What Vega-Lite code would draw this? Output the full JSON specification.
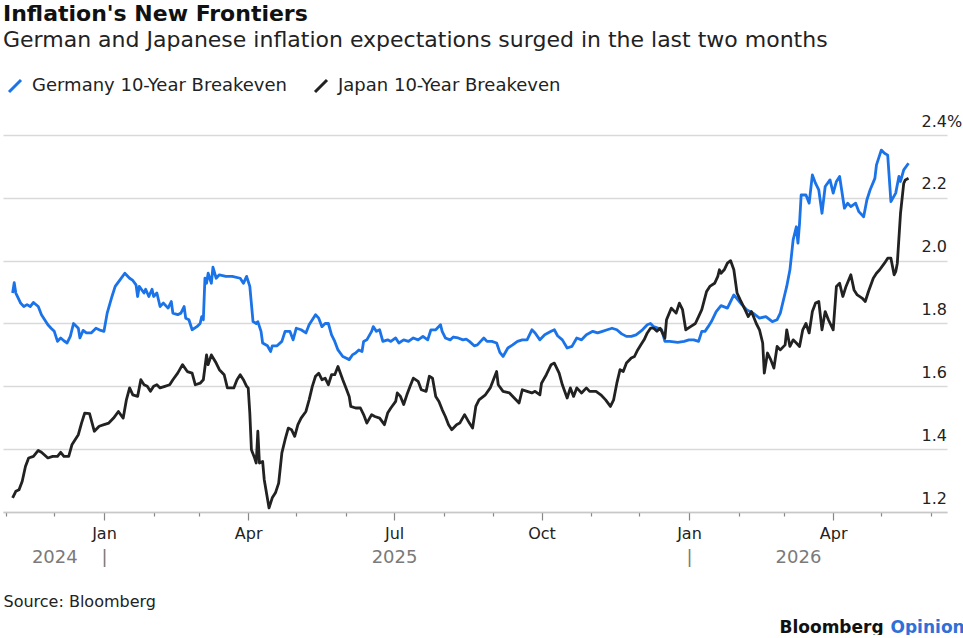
{
"$schema":"https://vega.github.io/schema/vega-lite/v6.json",
"width":944,"height":377,
"padding":{"left":3,"top":3,"right":0,"bottom":0},
"background":"white",
"title":{"text":"Inflation's New Frontiers","subtitle":"German and Japanese inflation expectations surged in the last two months","anchor":"start","frame":"group","font":"DejaVu Sans","fontSize":22,"fontWeight":"bold","color":"#111","subtitleFont":"DejaVu Sans","subtitleFontSize":22,"subtitleColor":"#222","subtitlePadding":4,"offset":25},
"config":{"view":{"stroke":null}},
"datasets":{
"de":[
{"date":"2024-11-05","value":1.897},{"date":"2024-11-06","value":1.93},{"date":"2024-11-07","value":1.897},{"date":"2024-11-10","value":1.865},{"date":"2024-11-12","value":1.854},{"date":"2024-11-14","value":1.86},{"date":"2024-11-16","value":1.854},{"date":"2024-11-18","value":1.867},{"date":"2024-11-21","value":1.854},{"date":"2024-11-23","value":1.828},{"date":"2024-11-27","value":1.796},{"date":"2024-11-29","value":1.785},
{"date":"2024-12-01","value":1.775},{"date":"2024-12-03","value":1.743},{"date":"2024-12-05","value":1.754},{"date":"2024-12-07","value":1.745},{"date":"2024-12-09","value":1.738},{"date":"2024-12-11","value":1.759},{"date":"2024-12-13","value":1.80},{"date":"2024-12-16","value":1.785},{"date":"2024-12-17","value":1.754},{"date":"2024-12-19","value":1.778},{"date":"2024-12-21","value":1.77},{"date":"2024-12-24","value":1.77},{"date":"2024-12-27","value":1.785},{"date":"2024-12-30","value":1.778},
{"date":"2025-01-01","value":1.775},{"date":"2025-01-03","value":1.833},{"date":"2025-01-06","value":1.886},{"date":"2025-01-08","value":1.918},{"date":"2025-01-11","value":1.939},{"date":"2025-01-14","value":1.96},{"date":"2025-01-17","value":1.944},{"date":"2025-01-19","value":1.937},{"date":"2025-01-21","value":1.923},{"date":"2025-01-22","value":1.886},{"date":"2025-01-23","value":1.918},{"date":"2025-01-26","value":1.897},{"date":"2025-01-27","value":1.909},{"date":"2025-01-29","value":1.886},{"date":"2025-01-31","value":1.909},
{"date":"2025-02-01","value":1.886},{"date":"2025-02-03","value":1.897},{"date":"2025-02-05","value":1.854},{"date":"2025-02-07","value":1.865},{"date":"2025-02-10","value":1.849},{"date":"2025-02-12","value":1.87},{"date":"2025-02-13","value":1.833},{"date":"2025-02-16","value":1.828},{"date":"2025-02-18","value":1.833},{"date":"2025-02-20","value":1.854},{"date":"2025-02-21","value":1.817},{"date":"2025-02-23","value":1.812},{"date":"2025-02-25","value":1.78},{"date":"2025-02-28","value":1.79},
{"date":"2025-03-02","value":1.80},{"date":"2025-03-03","value":1.822},{"date":"2025-03-04","value":1.812},{"date":"2025-03-05","value":1.944},{"date":"2025-03-06","value":1.928},{"date":"2025-03-07","value":1.96},{"date":"2025-03-09","value":1.928},{"date":"2025-03-10","value":1.979},{"date":"2025-03-12","value":1.944},{"date":"2025-03-14","value":1.955},{"date":"2025-03-18","value":1.95},{"date":"2025-03-22","value":1.95},{"date":"2025-03-27","value":1.944},{"date":"2025-03-29","value":1.928},{"date":"2025-03-31","value":1.95},
{"date":"2025-04-02","value":1.918},{"date":"2025-04-04","value":1.806},{"date":"2025-04-06","value":1.80},{"date":"2025-04-07","value":1.806},{"date":"2025-04-09","value":1.775},{"date":"2025-04-10","value":1.738},{"date":"2025-04-13","value":1.729},{"date":"2025-04-15","value":1.711},{"date":"2025-04-16","value":1.729},{"date":"2025-04-19","value":1.729},{"date":"2025-04-22","value":1.743},{"date":"2025-04-24","value":1.775},{"date":"2025-04-27","value":1.775},{"date":"2025-04-29","value":1.748},
{"date":"2025-05-01","value":1.785},{"date":"2025-05-04","value":1.78},{"date":"2025-05-07","value":1.77},{"date":"2025-05-09","value":1.796},{"date":"2025-05-11","value":1.812},{"date":"2025-05-13","value":1.828},{"date":"2025-05-15","value":1.817},{"date":"2025-05-17","value":1.79},{"date":"2025-05-19","value":1.80},{"date":"2025-05-21","value":1.80},{"date":"2025-05-23","value":1.764},{"date":"2025-05-25","value":1.743},{"date":"2025-05-27","value":1.716},{"date":"2025-05-30","value":1.695},
{"date":"2025-06-01","value":1.69},{"date":"2025-06-03","value":1.685},{"date":"2025-06-05","value":1.70},{"date":"2025-06-07","value":1.706},{"date":"2025-06-09","value":1.716},{"date":"2025-06-11","value":1.711},{"date":"2025-06-12","value":1.743},{"date":"2025-06-14","value":1.748},{"date":"2025-06-17","value":1.775},{"date":"2025-06-18","value":1.79},{"date":"2025-06-20","value":1.775},{"date":"2025-06-22","value":1.78},{"date":"2025-06-24","value":1.743},{"date":"2025-06-27","value":1.748},{"date":"2025-06-29","value":1.743},
{"date":"2025-07-02","value":1.754},{"date":"2025-07-04","value":1.738},{"date":"2025-07-07","value":1.748},{"date":"2025-07-10","value":1.743},{"date":"2025-07-13","value":1.754},{"date":"2025-07-16","value":1.748},{"date":"2025-07-19","value":1.759},{"date":"2025-07-22","value":1.748},{"date":"2025-07-24","value":1.78},{"date":"2025-07-27","value":1.78},{"date":"2025-07-30","value":1.796},{"date":"2025-07-31","value":1.775},
{"date":"2025-08-02","value":1.754},{"date":"2025-08-05","value":1.748},{"date":"2025-08-07","value":1.757},{"date":"2025-08-10","value":1.754},{"date":"2025-08-13","value":1.748},{"date":"2025-08-15","value":1.75},{"date":"2025-08-17","value":1.743},{"date":"2025-08-20","value":1.729},{"date":"2025-08-22","value":1.732},{"date":"2025-08-24","value":1.743},{"date":"2025-08-26","value":1.754},{"date":"2025-08-28","value":1.743},{"date":"2025-08-31","value":1.743},
{"date":"2025-09-03","value":1.738},{"date":"2025-09-05","value":1.708},{"date":"2025-09-07","value":1.695},{"date":"2025-09-10","value":1.722},{"date":"2025-09-13","value":1.732},{"date":"2025-09-16","value":1.743},{"date":"2025-09-19","value":1.748},{"date":"2025-09-22","value":1.748},{"date":"2025-09-25","value":1.78},{"date":"2025-09-27","value":1.77},{"date":"2025-09-30","value":1.748},
{"date":"2025-10-03","value":1.764},{"date":"2025-10-07","value":1.775},{"date":"2025-10-09","value":1.78},{"date":"2025-10-11","value":1.761},{"date":"2025-10-14","value":1.748},{"date":"2025-10-17","value":1.722},{"date":"2025-10-20","value":1.727},{"date":"2025-10-23","value":1.754},{"date":"2025-10-26","value":1.748},{"date":"2025-10-29","value":1.764},
{"date":"2025-11-02","value":1.775},{"date":"2025-11-05","value":1.77},{"date":"2025-11-08","value":1.775},{"date":"2025-11-11","value":1.78},{"date":"2025-11-14","value":1.785},{"date":"2025-11-17","value":1.78},{"date":"2025-11-20","value":1.767},{"date":"2025-11-23","value":1.759},{"date":"2025-11-26","value":1.759},{"date":"2025-11-29","value":1.764},
{"date":"2025-12-03","value":1.78},{"date":"2025-12-06","value":1.796},{"date":"2025-12-08","value":1.80},{"date":"2025-12-10","value":1.79},{"date":"2025-12-13","value":1.785},{"date":"2025-12-15","value":1.78},{"date":"2025-12-17","value":1.743},{"date":"2025-12-20","value":1.743},{"date":"2025-12-25","value":1.74},{"date":"2025-12-29","value":1.743},
{"date":"2026-01-01","value":1.748},{"date":"2026-01-04","value":1.748},{"date":"2026-01-07","value":1.743},{"date":"2026-01-09","value":1.775},{"date":"2026-01-11","value":1.775},{"date":"2026-01-13","value":1.79},{"date":"2026-01-15","value":1.806},{"date":"2026-01-18","value":1.838},{"date":"2026-01-21","value":1.857},{"date":"2026-01-25","value":1.849},{"date":"2026-01-29","value":1.891},
{"date":"2026-02-03","value":1.86},{"date":"2026-02-06","value":1.844},{"date":"2026-02-10","value":1.833},{"date":"2026-02-14","value":1.817},{"date":"2026-02-18","value":1.822},{"date":"2026-02-22","value":1.806},{"date":"2026-02-25","value":1.812},{"date":"2026-02-27","value":1.833},
{"date":"2026-03-02","value":1.897},{"date":"2026-03-03","value":1.918},{"date":"2026-03-05","value":1.971},{"date":"2026-03-07","value":2.066},{"date":"2026-03-09","value":2.108},{"date":"2026-03-10","value":2.056},{"date":"2026-03-11","value":2.119},{"date":"2026-03-12","value":2.209},{"date":"2026-03-15","value":2.209},{"date":"2026-03-17","value":2.183},{"date":"2026-03-19","value":2.273},{"date":"2026-03-21","value":2.246},{"date":"2026-03-23","value":2.225},{"date":"2026-03-25","value":2.151},{"date":"2026-03-27","value":2.236},{"date":"2026-03-30","value":2.257},
{"date":"2026-04-01","value":2.215},{"date":"2026-04-03","value":2.252},{"date":"2026-04-05","value":2.268},{"date":"2026-04-08","value":2.167},{"date":"2026-04-10","value":2.183},{"date":"2026-04-12","value":2.172},{"date":"2026-04-15","value":2.183},{"date":"2026-04-17","value":2.156},{"date":"2026-04-20","value":2.14},{"date":"2026-04-22","value":2.193},{"date":"2026-04-24","value":2.225},{"date":"2026-04-27","value":2.262},{"date":"2026-04-28","value":2.305},
{"date":"2026-05-01","value":2.352},{"date":"2026-05-03","value":2.342},{"date":"2026-05-05","value":2.336},{"date":"2026-05-07","value":2.188},{"date":"2026-05-10","value":2.215},{"date":"2026-05-12","value":2.268},{"date":"2026-05-13","value":2.252},{"date":"2026-05-15","value":2.289},{"date":"2026-05-18","value":2.31}
],
"jp":[
{"date":"2024-11-05","value":1.245},{"date":"2024-11-07","value":1.266},{"date":"2024-11-09","value":1.271},{"date":"2024-11-11","value":1.298},{"date":"2024-11-13","value":1.345},{"date":"2024-11-15","value":1.372},{"date":"2024-11-18","value":1.377},{"date":"2024-11-21","value":1.396},{"date":"2024-11-23","value":1.39},{"date":"2024-11-27","value":1.372},{"date":"2024-11-30","value":1.377},
{"date":"2024-12-03","value":1.377},{"date":"2024-12-05","value":1.39},{"date":"2024-12-07","value":1.377},{"date":"2024-12-10","value":1.377},{"date":"2024-12-12","value":1.414},{"date":"2024-12-14","value":1.43},{"date":"2024-12-16","value":1.446},{"date":"2024-12-18","value":1.483},{"date":"2024-12-20","value":1.515},{"date":"2024-12-23","value":1.513},{"date":"2024-12-26","value":1.457},{"date":"2024-12-29","value":1.473},
{"date":"2025-01-01","value":1.478},{"date":"2025-01-04","value":1.483},{"date":"2025-01-07","value":1.499},{"date":"2025-01-10","value":1.52},{"date":"2025-01-13","value":1.499},{"date":"2025-01-15","value":1.557},{"date":"2025-01-17","value":1.595},{"date":"2025-01-19","value":1.573},{"date":"2025-01-22","value":1.568},{"date":"2025-01-24","value":1.621},{"date":"2025-01-26","value":1.605},{"date":"2025-01-28","value":1.60},{"date":"2025-01-30","value":1.584},
{"date":"2025-02-01","value":1.60},{"date":"2025-02-03","value":1.605},{"date":"2025-02-05","value":1.595},{"date":"2025-02-08","value":1.60},{"date":"2025-02-11","value":1.605},{"date":"2025-02-13","value":1.621},{"date":"2025-02-16","value":1.642},{"date":"2025-02-19","value":1.669},{"date":"2025-02-22","value":1.647},{"date":"2025-02-25","value":1.642},{"date":"2025-02-27","value":1.605},
{"date":"2025-03-02","value":1.61},{"date":"2025-03-04","value":1.621},{"date":"2025-03-06","value":1.70},{"date":"2025-03-07","value":1.669},{"date":"2025-03-09","value":1.70},{"date":"2025-03-12","value":1.674},{"date":"2025-03-14","value":1.653},{"date":"2025-03-17","value":1.637},{"date":"2025-03-19","value":1.595},{"date":"2025-03-23","value":1.595},{"date":"2025-03-25","value":1.621},{"date":"2025-03-27","value":1.637},{"date":"2025-03-29","value":1.621},{"date":"2025-03-31","value":1.60},
{"date":"2025-04-01","value":1.595},{"date":"2025-04-02","value":1.515},{"date":"2025-04-03","value":1.398},{"date":"2025-04-05","value":1.372},{"date":"2025-04-06","value":1.356},{"date":"2025-04-07","value":1.457},{"date":"2025-04-08","value":1.356},{"date":"2025-04-10","value":1.361},{"date":"2025-04-11","value":1.303},{"date":"2025-04-14","value":1.213},{"date":"2025-04-16","value":1.245},{"date":"2025-04-18","value":1.261},{"date":"2025-04-20","value":1.292},{"date":"2025-04-22","value":1.388},{"date":"2025-04-24","value":1.43},{"date":"2025-04-26","value":1.467},{"date":"2025-04-28","value":1.462},{"date":"2025-04-30","value":1.441},
{"date":"2025-05-02","value":1.478},{"date":"2025-05-04","value":1.499},{"date":"2025-05-07","value":1.52},{"date":"2025-05-09","value":1.557},{"date":"2025-05-11","value":1.60},{"date":"2025-05-13","value":1.632},{"date":"2025-05-15","value":1.642},{"date":"2025-05-17","value":1.621},{"date":"2025-05-19","value":1.626},{"date":"2025-05-21","value":1.605},{"date":"2025-05-23","value":1.637},{"date":"2025-05-25","value":1.637},{"date":"2025-05-27","value":1.663},{"date":"2025-05-30","value":1.621},
{"date":"2025-06-01","value":1.595},{"date":"2025-06-03","value":1.568},{"date":"2025-06-04","value":1.536},{"date":"2025-06-07","value":1.531},{"date":"2025-06-10","value":1.531},{"date":"2025-06-12","value":1.51},{"date":"2025-06-14","value":1.483},{"date":"2025-06-17","value":1.51},{"date":"2025-06-19","value":1.504},{"date":"2025-06-22","value":1.499},{"date":"2025-06-25","value":1.478},{"date":"2025-06-27","value":1.515},{"date":"2025-06-29","value":1.531},
{"date":"2025-07-02","value":1.552},{"date":"2025-07-03","value":1.579},{"date":"2025-07-05","value":1.568},{"date":"2025-07-07","value":1.542},{"date":"2025-07-09","value":1.573},{"date":"2025-07-11","value":1.60},{"date":"2025-07-13","value":1.626},{"date":"2025-07-16","value":1.616},{"date":"2025-07-18","value":1.589},{"date":"2025-07-21","value":1.584},{"date":"2025-07-23","value":1.632},{"date":"2025-07-25","value":1.626},{"date":"2025-07-27","value":1.568},{"date":"2025-07-29","value":1.552},{"date":"2025-07-31","value":1.526},
{"date":"2025-08-02","value":1.504},{"date":"2025-08-04","value":1.478},{"date":"2025-08-06","value":1.462},{"date":"2025-08-09","value":1.478},{"date":"2025-08-11","value":1.483},{"date":"2025-08-14","value":1.51},{"date":"2025-08-17","value":1.483},{"date":"2025-08-19","value":1.467},{"date":"2025-08-21","value":1.536},{"date":"2025-08-23","value":1.557},{"date":"2025-08-27","value":1.573},{"date":"2025-08-30","value":1.595},
{"date":"2025-09-01","value":1.621},{"date":"2025-09-03","value":1.647},{"date":"2025-09-04","value":1.605},{"date":"2025-09-07","value":1.584},{"date":"2025-09-11","value":1.579},{"date":"2025-09-14","value":1.563},{"date":"2025-09-17","value":1.547},{"date":"2025-09-19","value":1.589},{"date":"2025-09-22","value":1.584},{"date":"2025-09-25","value":1.579},{"date":"2025-09-27","value":1.584},{"date":"2025-09-30","value":1.573},
{"date":"2025-10-01","value":1.61},{"date":"2025-10-04","value":1.637},{"date":"2025-10-07","value":1.669},{"date":"2025-10-09","value":1.674},{"date":"2025-10-12","value":1.642},{"date":"2025-10-14","value":1.605},{"date":"2025-10-17","value":1.563},{"date":"2025-10-19","value":1.595},{"date":"2025-10-21","value":1.568},{"date":"2025-10-23","value":1.595},{"date":"2025-10-26","value":1.579},{"date":"2025-10-29","value":1.595},{"date":"2025-10-31","value":1.584},
{"date":"2025-11-04","value":1.584},{"date":"2025-11-07","value":1.573},{"date":"2025-11-10","value":1.557},{"date":"2025-11-13","value":1.536},{"date":"2025-11-15","value":1.557},{"date":"2025-11-17","value":1.61},{"date":"2025-11-19","value":1.653},{"date":"2025-11-21","value":1.647},{"date":"2025-11-23","value":1.674},{"date":"2025-11-26","value":1.69},{"date":"2025-11-28","value":1.695},{"date":"2025-11-30","value":1.716},
{"date":"2025-12-02","value":1.732},{"date":"2025-12-04","value":1.748},{"date":"2025-12-06","value":1.77},{"date":"2025-12-08","value":1.785},{"date":"2025-12-10","value":1.785},{"date":"2025-12-12","value":1.775},{"date":"2025-12-14","value":1.785},{"date":"2025-12-17","value":1.754},{"date":"2025-12-18","value":1.812},{"date":"2025-12-21","value":1.849},{"date":"2025-12-24","value":1.833},{"date":"2025-12-26","value":1.865},{"date":"2025-12-28","value":1.844},{"date":"2025-12-30","value":1.78},
{"date":"2026-01-02","value":1.79},{"date":"2026-01-05","value":1.80},{"date":"2026-01-07","value":1.822},{"date":"2026-01-09","value":1.844},{"date":"2026-01-12","value":1.902},{"date":"2026-01-14","value":1.918},{"date":"2026-01-17","value":1.928},{"date":"2026-01-19","value":1.95},{"date":"2026-01-20","value":1.971},{"date":"2026-01-21","value":1.96},{"date":"2026-01-23","value":1.971},{"date":"2026-01-25","value":1.992},{"date":"2026-01-27","value":2.0},{"date":"2026-01-29","value":1.971},{"date":"2026-01-31","value":1.897},
{"date":"2026-02-02","value":1.875},{"date":"2026-02-05","value":1.844},{"date":"2026-02-07","value":1.822},{"date":"2026-02-09","value":1.838},{"date":"2026-02-12","value":1.80},{"date":"2026-02-14","value":1.78},{"date":"2026-02-16","value":1.738},{"date":"2026-02-17","value":1.642},{"date":"2026-02-19","value":1.706},{"date":"2026-02-21","value":1.685},{"date":"2026-02-23","value":1.658},{"date":"2026-02-25","value":1.727},{"date":"2026-02-27","value":1.716},
{"date":"2026-03-02","value":1.732},{"date":"2026-03-03","value":1.78},{"date":"2026-03-05","value":1.727},{"date":"2026-03-07","value":1.748},{"date":"2026-03-09","value":1.738},{"date":"2026-03-11","value":1.727},{"date":"2026-03-13","value":1.78},{"date":"2026-03-15","value":1.80},{"date":"2026-03-17","value":1.77},{"date":"2026-03-19","value":1.838},{"date":"2026-03-21","value":1.865},{"date":"2026-03-23","value":1.87},{"date":"2026-03-25","value":1.78},{"date":"2026-03-27","value":1.838},{"date":"2026-03-29","value":1.812},
{"date":"2026-04-01","value":1.78},{"date":"2026-04-03","value":1.918},{"date":"2026-04-05","value":1.928},{"date":"2026-04-07","value":1.886},{"date":"2026-04-09","value":1.918},{"date":"2026-04-12","value":1.955},{"date":"2026-04-14","value":1.907},{"date":"2026-04-16","value":1.891},{"date":"2026-04-19","value":1.881},{"date":"2026-04-21","value":1.87},{"date":"2026-04-23","value":1.902},{"date":"2026-04-26","value":1.944},{"date":"2026-04-28","value":1.96},{"date":"2026-04-30","value":1.971},
{"date":"2026-05-03","value":1.992},{"date":"2026-05-05","value":2.008},{"date":"2026-05-07","value":2.008},{"date":"2026-05-09","value":1.955},{"date":"2026-05-10","value":1.965},{"date":"2026-05-11","value":1.992},{"date":"2026-05-13","value":2.151},{"date":"2026-05-15","value":2.246},{"date":"2026-05-16","value":2.257},{"date":"2026-05-18","value":2.262}
]},
"resolve":{"axis":{"x":"independent"}},
"layer":[
{"data":{"name":"de"},"mark":{"type":"line","strokeWidth":2.8,"strokeJoin":"round"},
"encoding":{
"x":{"field":"date","type":"temporal","scale":{"domain":[{"year":2024,"month":10,"date":30},{"year":2026,"month":6,"date":11}]},
"axis":{"orient":"bottom","values":[{"year":2024,"month":11,"date":1},{"year":2024,"month":12,"date":1},{"year":2025,"month":1,"date":1},{"year":2025,"month":2,"date":1},{"year":2025,"month":3,"date":1},{"year":2025,"month":4,"date":1},{"year":2025,"month":5,"date":1},{"year":2025,"month":6,"date":1},{"year":2025,"month":7,"date":1},{"year":2025,"month":8,"date":1},{"year":2025,"month":9,"date":1},{"year":2025,"month":10,"date":1},{"year":2025,"month":11,"date":1},{"year":2025,"month":12,"date":1},{"year":2026,"month":1,"date":1},{"year":2026,"month":2,"date":1},{"year":2026,"month":3,"date":1},{"year":2026,"month":4,"date":1},{"year":2026,"month":5,"date":1},{"year":2026,"month":6,"date":1}],
"labelExpr":"month(datum.value)%3==0 ? timeFormat(datum.value,'%b') : ''",
"tickSize":{"condition":{"test":"month(datum.value)%3==0","value":8},"value":4},
"tickColor":"#888","tickWidth":1.2,"domainColor":"#c8c8c8","domainWidth":1.5,"grid":false,
"labelFont":"DejaVu Sans","labelFontSize":16,"labelColor":"#222","labelPadding":5,"labelFlush":false,"labelOverlap":false,
"title":"Source: Bloomberg","titleFont":"DejaVu Sans","titleFontSize":16,"titleFontWeight":"normal","titleColor":"#222","titleX":0,"titleY":94,"titleAlign":"left","titleBaseline":"alphabetic","titleAnchor":"start"}},
"y":{"field":"value","type":"quantitative","scale":{"domain":[1.2,2.4],"nice":false,"zero":false},
"axis":{"orient":"right","values":[1.2,1.4,1.6,1.8,2.0,2.2,2.4],"labelExpr":"datum.value==2.4 ? '2.4%' : format(datum.value,'.1f')","grid":true,"gridColor":"#d9d9d9","gridWidth":1.5,"domain":false,"ticks":false,"labelAlign":"left","labelBaseline":"alphabetic","labelOffset":-9,"labelPadding":-26,"labelFont":"DejaVu Sans","labelFontSize":16,"labelColor":"#222",
"title":"Opinion","titleFont":"DejaVu Sans","titleFontSize":17,"titleFontWeight":"bold","titleColor":"#2f6fd8","titleAngle":0,"titleAlign":"left","titleBaseline":"alphabetic","titleX":-57,"titleY":497}},
"color":{"datum":"Germany 10-Year Breakeven","type":"nominal","scale":{"domain":["Germany 10-Year Breakeven","Japan 10-Year Breakeven"],"range":["#1a73e8","#222222"]},
"legend":{"orient":"none","legendX":3,"legendY":-58,"direction":"horizontal","title":null,"symbolType":"M-1,1L1,-1","symbolSize":144,"symbolStrokeWidth":3,"labelFont":"DejaVu Sans","labelFontSize":18,"labelColor":"#222","labelLimit":400,"columnPadding":22,"labelOffset":8}}}},
{"data":{"name":"jp"},"mark":{"type":"line","strokeWidth":2.8,"strokeJoin":"round"},
"encoding":{
"x":{"field":"date","type":"temporal",
"axis":{"orient":"bottom","values":[{"year":2024,"month":12,"date":1},{"year":2025,"month":1,"date":1},{"year":2025,"month":7,"date":1},{"year":2026,"month":1,"date":1},{"year":2026,"month":3,"date":10}],
"labelExpr":"month(datum.value)==0 ? '|' : timeFormat(datum.value,'%Y')","ticks":false,"tickSize":0,"domain":false,"grid":false,"labelPadding":36,"labelFont":"DejaVu Sans","labelFontSize":18,"labelColor":"#7a7a7a","labelFlush":false,"labelOverlap":false,
"title":"Bloomberg","titleFont":"DejaVu Sans","titleFontSize":17,"titleFontWeight":"bold","titleColor":"#111","titleX":776,"titleY":120,"titleAlign":"left","titleBaseline":"alphabetic","titleAnchor":"start"}},
"y":{"field":"value","type":"quantitative"},
"color":{"datum":"Japan 10-Year Breakeven","type":"nominal"}}}
]
}
